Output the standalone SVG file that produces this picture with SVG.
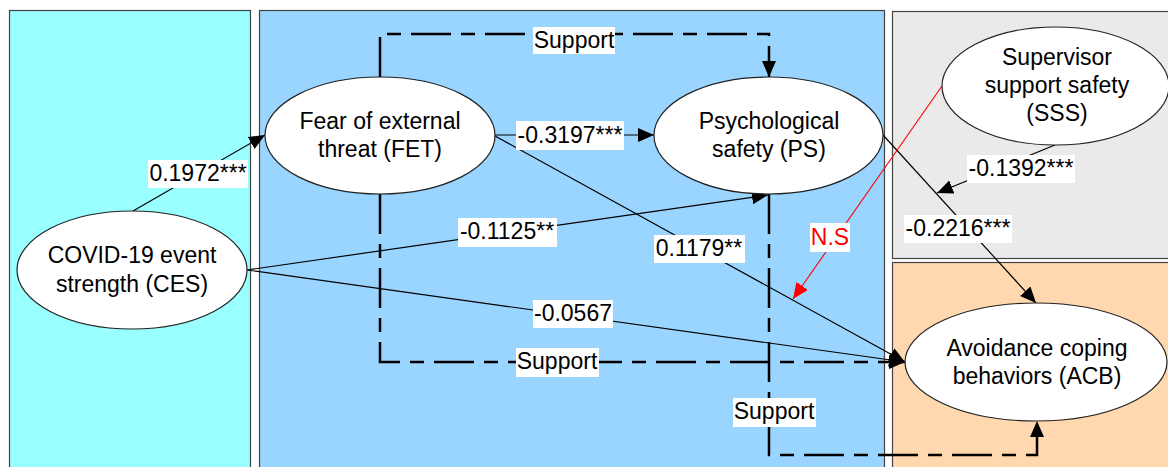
<svg xmlns="http://www.w3.org/2000/svg" width="1168" height="467" viewBox="0 0 1168 467">
<defs>
<style>
.panel{stroke:#444;stroke-width:1.2}
.node ellipse{fill:#fff;stroke:#222;stroke-width:1.2}
text{font-family:"Liberation Sans",Arial,sans-serif;font-size:23px;fill:#000;text-anchor:middle}
.solid{fill:none;stroke:#000;stroke-width:1.2}
.dash{fill:none;stroke:#000;stroke-width:2.5;stroke-dasharray:40 10 14 10}
.red{fill:none;stroke:#f00;stroke-width:1.1}
.lbl{fill:#fff}
.ns{fill:#f00}
</style>
<marker id="ah" markerUnits="userSpaceOnUse" markerWidth="17" markerHeight="15" refX="16" refY="7" orient="auto" viewBox="0 0 17 15">
<path d="M0,0 L16,7 L0,14 z" fill="#000"/>
</marker>
<marker id="ahr" markerUnits="userSpaceOnUse" markerWidth="17" markerHeight="15" refX="16" refY="7" orient="auto" viewBox="0 0 17 15">
<path d="M0,0 L16,7 L0,14 z" fill="#f00"/>
</marker>
</defs>
<rect width="1168" height="467" fill="#fff"/>
<g id="panels">
<rect class="panel" x="9.5" y="10.5" width="241" height="470" fill="#99FFFF"/>
<rect class="panel" x="259.5" y="10.5" width="625" height="470" fill="#99D5FF"/>
<rect class="panel" x="892.5" y="11.5" width="290" height="247" fill="#EAEAEA"/>
<rect class="panel" x="892.5" y="262.5" width="290" height="220" fill="#FFD8B0"/>
</g>
<g id="connectors">
<line class="solid" x1="133" y1="211" x2="265" y2="135" marker-end="url(#ah)"/>
<line class="solid" x1="495" y1="135" x2="654" y2="135" marker-end="url(#ah)"/>
<path class="dash" d="M380,77 V34 H769 V77" marker-end="url(#ah)"/>
<path class="dash" d="M380,194 V362 H905" marker-end="url(#ah)"/>
<path class="dash" d="M769,194 V455 H1037 V421" marker-end="url(#ah)"/>
<line class="solid" x1="247" y1="270" x2="768" y2="195" marker-end="url(#ah)"/>
<line class="solid" x1="247" y1="270" x2="905" y2="362" marker-end="url(#ah)"/>
<line class="solid" x1="495" y1="136" x2="905" y2="362" marker-end="url(#ah)"/>
<line class="solid" x1="883" y1="135" x2="1036" y2="303" marker-end="url(#ah)"/>
<line class="solid" x1="1055" y1="145" x2="937" y2="193" marker-end="url(#ah)"/>
<line class="red" x1="942" y1="86" x2="793" y2="299" marker-end="url(#ahr)"/>
</g>
<g id="labels">
<rect class="lbl" x="148" y="160" width="100" height="28"/><text x="198" y="181">0.1972***</text>
<rect class="lbl" x="516" y="121" width="108" height="29"/><text x="570" y="143">-0.3197***</text>
<rect class="lbl" x="533" y="27" width="82" height="27"/><text x="574" y="48">Support</text>
<rect class="lbl" x="458" y="218" width="99" height="29"/><text x="507" y="239">-0.1125**</text>
<rect class="lbl" x="654" y="235" width="91" height="28"/><text x="699" y="256">0.1179**</text>
<rect class="lbl" x="533" y="300" width="80" height="28"/><text x="573" y="321">-0.0567</text>
<rect class="lbl" x="516" y="348" width="83" height="29"/><text x="557" y="369">Support</text>
<rect class="lbl" x="733" y="398" width="83" height="29"/><text x="774" y="419">Support</text>
<rect class="lbl" x="810" y="223" width="40" height="29"/><text class="ns" x="830" y="245">N.S</text>
<rect class="lbl" x="904" y="215" width="108" height="28"/><text x="958" y="236">-0.2216***</text>
<rect class="lbl" x="967" y="155" width="108" height="28"/><text x="1021" y="176">-0.1392***</text>
</g>
<g id="CES" class="node">
<ellipse cx="132" cy="270" rx="115" ry="59"/>
<text x="132" y="263">COVID-19 event</text>
<text x="132" y="292">strength (CES)</text>
</g>
<g id="FET" class="node">
<ellipse cx="380" cy="135.5" rx="115" ry="58.5"/>
<text x="380" y="129">Fear of external</text>
<text x="380" y="157">threat (FET)</text>
</g>
<g id="PS" class="node">
<ellipse cx="768.5" cy="135.5" rx="114.5" ry="58.5"/>
<text x="769" y="129">Psychological</text>
<text x="769" y="157">safety (PS)</text>
</g>
<g id="SSS" class="node">
<ellipse cx="1055.5" cy="86" rx="113.5" ry="59"/>
<text x="1057" y="65">Supervisor</text>
<text x="1057" y="93">support safety</text>
<text x="1057" y="121">(SSS)</text>
</g>
<g id="ACB" class="node">
<ellipse cx="1036" cy="362" rx="131" ry="59"/>
<text x="1037" y="356">Avoidance coping</text>
<text x="1037" y="384">behaviors (ACB)</text>
</g>
</svg>
